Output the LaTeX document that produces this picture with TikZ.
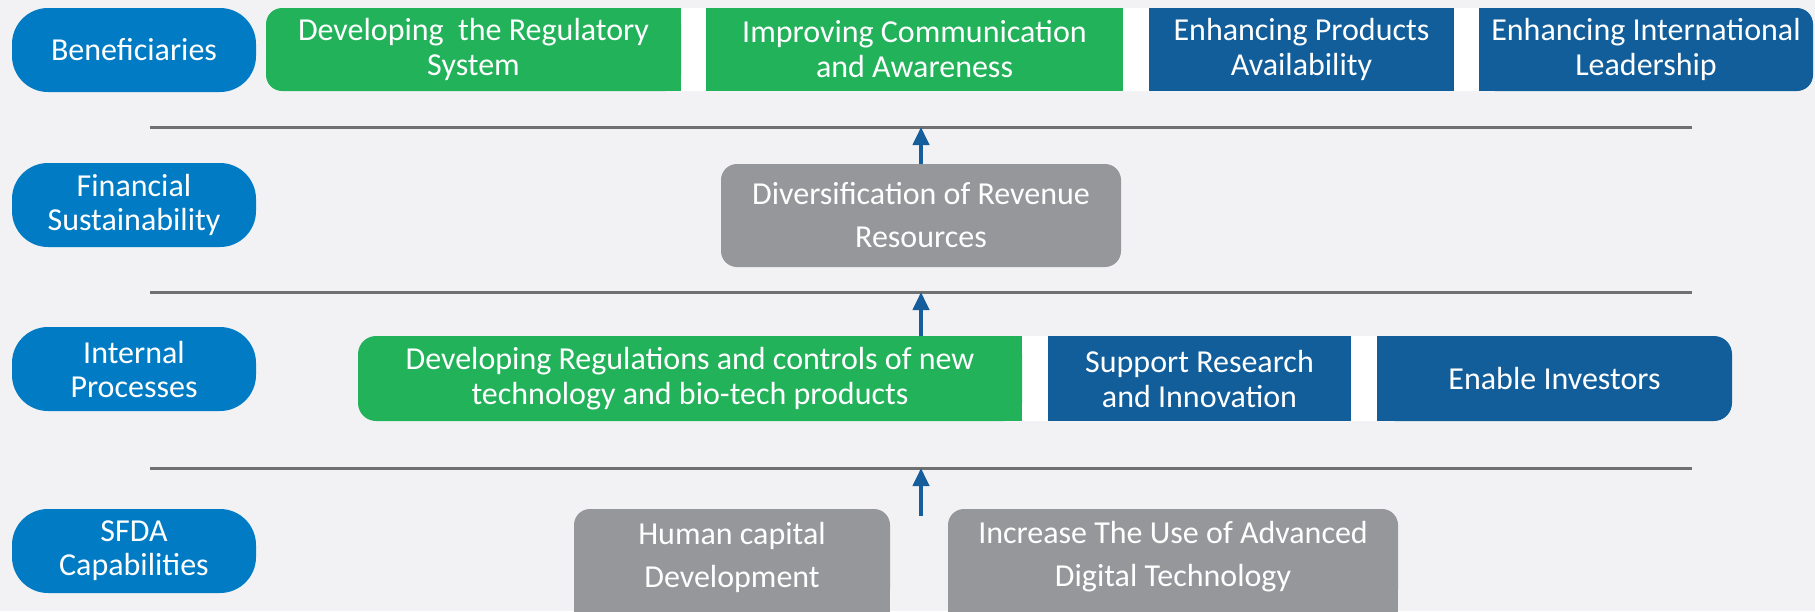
\documentclass[tikz,border=0pt]{standalone}
\usepackage{fontspec}
\setmainfont{Carlito}
\usepackage{tikz}
\usetikzlibrary{arrows.meta,backgrounds}
\definecolor{pillblue}{RGB}{0,123,196}
\definecolor{grn}{RGB}{34,178,90}
\definecolor{dblue}{RGB}{17,94,154}
\definecolor{gbox}{RGB}{150,151,154}
\definecolor{bgc}{RGB}{242,242,245}
\definecolor{arrblue}{RGB}{22,94,155}
\definecolor{sepgray}{RGB}{112,112,112}

\begin{document}
\begin{tikzpicture}[x=1pt,y=-1pt,
  pill/.style={fill=pillblue,text=white,rounded corners=36,minimum width=244,minimum height=84,inner sep=0pt,align=center,font=\fontsize{32}{34}\selectfont},
  box/.style={text=white,minimum height=84,inner sep=0pt,align=center,font=\fontsize{32}{35}\selectfont},
  grey/.style={box,fill=gbox,rounded corners=16,font=\fontsize{32}{43}\selectfont},
  sep/.style={line width=3pt,draw=sepgray},
  up/.style={draw=arrblue,line width=4pt,-{Triangle[length=18pt,width=16pt]}}]

\useasboundingbox (0,0) rectangle (1815,611);

\node[pill] (ben) at (134,50) {Beneficiaries};
\node[pill] (fin) at (134,205) {Financial\\Sustainability};
\node[pill] (int) at (134,369) {Internal\\Processes};
\node[pill] (cap) at (134,551) {SFDA\\Capabilities};

\node[box,fill=grn,rounded corners=16,minimum width=415,minimum height=83] (b1) at (473.5,49.5) {Developing\ \ the Regulatory\\System};
\node[box,fill=grn,minimum width=417,minimum height=83] (b2) at (914.5,49.5) {Improving Communication\\and Awareness};
\node[box,fill=dblue,minimum width=305,minimum height=83] (b3) at (1301.5,49.5) {Enhancing Products\\Availability};
\node[box,fill=dblue,rounded corners=16,minimum width=334,minimum height=83] (b4) at (1646,49.5) {Enhancing International\\Leadership};

\node[grey,minimum width=400,minimum height=103] (div) at (921,215.5) {Diversification of Revenue\\Resources};

\node[box,fill=grn,rounded corners=18,minimum width=664,minimum height=85] (reg) at (690,378.5) {Developing Regulations and controls of new\\technology and bio-tech products};
\node[box,fill=dblue,minimum width=303,minimum height=85] (res) at (1199.5,378.5) {Support Research\\and Innovation};
\node[box,fill=dblue,rounded corners=18,minimum width=355,minimum height=85] (inv) at (1554.5,378.5) {Enable Investors};

\node[grey,minimum width=316,minimum height=96] (hum) at (732,557) {Human capital\\Development};
\node[grey,minimum width=450,minimum height=96] (adv) at (1173,557) {Increase The Use of Advanced\\Digital Technology};

\coordinate (l1w) at (150,127);
\coordinate (l1e) at (1692,127);
\coordinate (l2w) at (150,292);
\coordinate (l2e) at (1692,292);
\coordinate (l3w) at (150,468);
\coordinate (l3e) at (1692,468);
\coordinate (a3) at (921,516);

\draw[sep] (l1w) -- (l1e);
\draw[sep] (l2w) -- (l2e);
\draw[sep] (l3w) -- (l3e);

\draw[up] (div.north) -- (div.north |- l1w);
\draw[up] (reg.north -| div.north) -- (div.south |- l2w);
\draw[up] (a3) -- (a3 |- l3w);

\begin{pgfonlayer}{background}
\fill[bgc] (0,0) rectangle (1815,611);
\fill[white,rounded corners=16] (b1.north west) rectangle (b4.south east);
\fill[white,rounded corners=18] (reg.north west) rectangle (inv.south east);
\fill[grn] ([xshift=-20pt]b1.north east) rectangle (b1.south east);
\fill[dblue] (b4.north west) rectangle ([xshift=20pt]b4.south west);
\fill[grn] ([xshift=-20pt]reg.north east) rectangle (reg.south east);
\fill[dblue] (inv.north west) rectangle ([xshift=20pt]inv.south west);
\fill[gbox] ([yshift=20pt]hum.south west) rectangle ([yshift=-30pt]hum.south east);
\fill[gbox] ([yshift=20pt]adv.south west) rectangle ([yshift=-30pt]adv.south east);
\end{pgfonlayer}

\end{tikzpicture}
\end{document}
